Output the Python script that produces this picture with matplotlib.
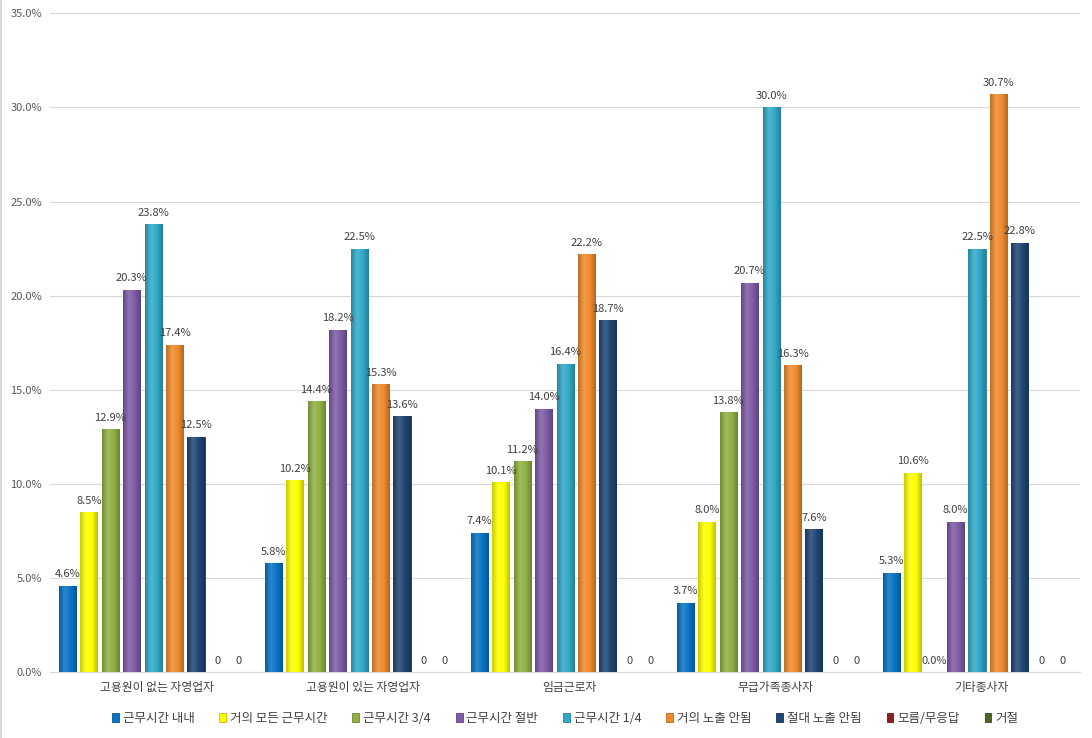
import numpy as np
import matplotlib.pyplot as plt
from matplotlib.colors import LinearSegmentedColormap, to_rgb

plt.rcParams['font.family'] = ['Noto Sans CJK KR', 'DejaVu Sans']

groups = ['고용원이 없는 자영업자', '고용원이 있는 자영업자', '임금근로자', '무급가족종사자', '기타종사자']
series = ['근무시간 내내', '거의 모든 근무시간', '근무시간 3/4', '근무시간 절반', '근무시간 1/4',
          '거의 노출 안됨', '절대 노출 안됨', '모름/무응답', '거절']
colors = ['#0873C4', '#FFFF00', '#8FB142', '#7D5BA6', '#31A9C8',
          '#F08A2C', '#1F4673', '#8B1F1F', '#4F6228']

values = [
    [4.6, 8.5, 12.9, 20.3, 23.8, 17.4, 12.5, 0, 0],
    [5.8, 10.2, 14.4, 18.2, 22.5, 15.3, 13.6, 0, 0],
    [7.4, 10.1, 11.2, 14.0, 16.4, 22.2, 18.7, 0, 0],
    [3.7, 8.0, 13.8, 20.7, 30.0, 16.3, 7.6, 0, 0],
    [5.3, 10.6, 0.0, 8.0, 22.5, 30.7, 22.8, 0, 0],
]
vals = np.array(values)

fig = plt.figure(figsize=(10.92, 7.38), dpi=100)
ax = fig.add_axes([0.046, 0.089, 0.943, 0.893])

x = np.arange(len(groups))
slot = 0.104
width = 0.083

def shade(c, f):
    r = np.array(to_rgb(c))
    if f < 1:
        return tuple(r * f)
    return tuple(r + (1 - r) * (f - 1))

for i, name in enumerate(series):
    pos = x + (i - 4) * slot
    bars = ax.bar(pos, vals[:, i], width, color=colors[i], label=name,
                  edgecolor=shade(colors[i], 0.75), linewidth=0.6, zorder=3)
    cmap = LinearSegmentedColormap.from_list(
        'g%d' % i, [shade(colors[i], 0.8), shade(colors[i], 1.15), colors[i], shade(colors[i], 0.75)])
    grad = np.linspace(0, 1, 64).reshape(1, -1)
    for b, v in zip(bars, vals[:, i]):
        if v > 0:
            im = ax.imshow(grad, extent=[b.get_x(), b.get_x() + b.get_width(), 0, v],
                           cmap=cmap, aspect='auto', zorder=3.5)
            im.set_clip_path(b)
        if i >= 7:
            lab = '0'
        else:
            lab = f'{v:.1f}%'
        ax.text(b.get_x() + b.get_width() / 2, v + 0.35, lab, ha='center', va='bottom',
                fontsize=8, color='#404040', zorder=5)

ax.set_xlim(-0.5, 4.5)
ax.set_ylim(0, 35)
ax.set_yticks(np.arange(0, 35.1, 5))
ax.set_yticklabels([f'{t:.1f}%' for t in np.arange(0, 35.1, 5)], fontsize=8, color='#595959')
ax.set_xticks(x + 0.02)
ax.set_xticklabels(groups, fontsize=8.5, color='#404040')
ax.tick_params(axis='both', length=0, pad=6)
ax.grid(axis='y', color='#D9D9D9', linewidth=0.8, zorder=0)
for s in ['top', 'right', 'left']:
    ax.spines[s].set_visible(False)
ax.spines['bottom'].set_color('#D9D9D9')

ax.legend(loc='upper center', bbox_to_anchor=(0.5, -0.043), ncol=9, frameon=False,
          fontsize=9, handlelength=0.55, handleheight=0.7, handletextpad=0.3, columnspacing=2.0,
          labelcolor='#404040')

fig.add_artist(plt.Line2D([0.001, 0.001], [0, 1], color='#D9D9D9', linewidth=1.5))

fig.savefig('out.png', dpi=100)
